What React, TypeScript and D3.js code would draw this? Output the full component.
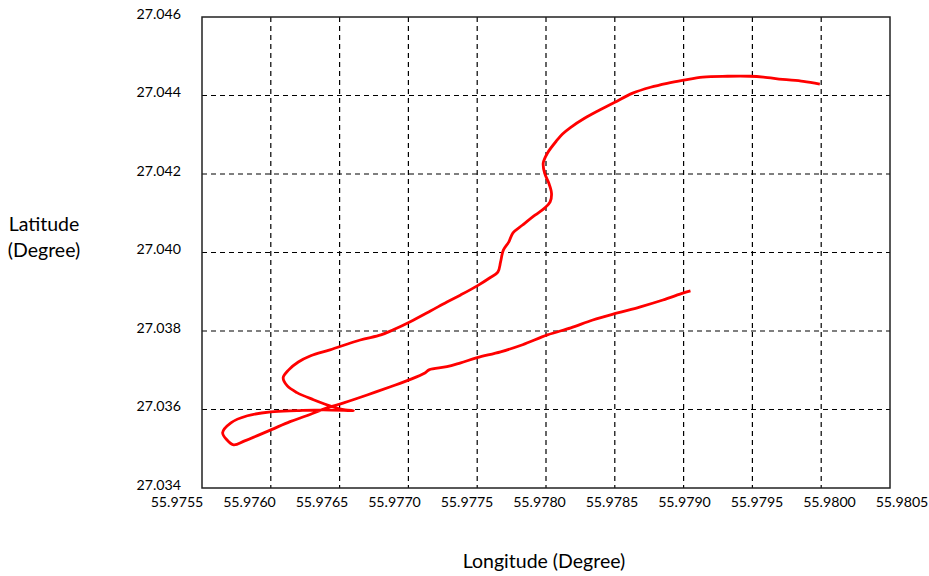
import React from "react"
import * as d3 from "d3"

// track points, [longitude, latitude], in order along the path
const trackLon = [
  55.97999, 55.97987, 55.97972, 55.97958, 55.97948, 55.97932, 55.97914, 55.979, 55.97888, 55.97876,
  55.97863, 55.9785, 55.97839, 55.97828, 55.97818, 55.97812, 55.97808, 55.97801, 55.97798, 55.97799,
  55.97802, 55.97804, 55.97803, 55.97799, 55.97792, 55.97783, 55.97776, 55.97773, 55.97769, 55.97767,
  55.97765, 55.97759, 55.9775, 55.97738, 55.97728, 55.97716, 55.97701, 55.97689, 55.9768, 55.97665,
  55.97643, 55.97629, 55.9762, 55.97613, 55.97609, 55.97612, 55.97619, 55.97631, 55.97645, 55.97654,
  55.9766, 55.97638, 55.97619, 55.976, 55.97583, 55.97571, 55.97565, 55.97568, 55.97573, 55.97581,
  55.976, 55.97614, 55.97626, 55.97641, 55.97653, 55.9767, 55.97687, 55.97701, 55.97712, 55.97715,
  55.97728, 55.97738, 55.9775, 55.97767, 55.97783, 55.97801, 55.97818, 55.97834, 55.97852, 55.97868,
  55.97885, 55.979, 55.97905,
]
const trackLat = [
  27.04429, 27.04436, 27.04441, 27.04447, 27.04449, 27.04449, 27.04447, 27.04439, 27.04431, 27.04421,
  27.04406, 27.04383, 27.04363, 27.04342, 27.04319, 27.04302, 27.04286, 27.04253, 27.04228, 27.04202,
  27.04177, 27.04151, 27.04129, 27.04113, 27.04095, 27.0407, 27.0405, 27.04027, 27.04006, 27.03976,
  27.0395, 27.03935, 27.03915, 27.03892, 27.03874, 27.03851, 27.03823, 27.03803, 27.0379, 27.03777,
  27.03752, 27.03737, 27.03721, 27.03701, 27.03681, 27.0366, 27.03643, 27.03625, 27.03607, 27.03599,
  27.03597, 27.03599, 27.03597, 27.03594, 27.03584, 27.03566, 27.03541, 27.03523, 27.0351, 27.0352,
  27.03548, 27.03569, 27.03584, 27.03604, 27.03617, 27.03637, 27.03658, 27.03676, 27.03693, 27.03701,
  27.03709, 27.03719, 27.03732, 27.03747, 27.03765, 27.0379, 27.03808, 27.03828, 27.03846, 27.03861,
  27.03879, 27.03897, 27.03902,
]

const xTicks = [55.9755, 55.976, 55.9765, 55.977, 55.9775, 55.978, 55.9785, 55.979, 55.9795, 55.98, 55.9805]
const yTicks = [27.034, 27.036, 27.038, 27.04, 27.042, 27.044, 27.046]

const width = 929
const height = 576
const plot = { left: 202, right: 890, top: 17, bottom: 488 }
const font = "Lato, 'Open Sans', sans-serif"

export default function App() {
  const x = d3.scaleLinear().domain([55.9755, 55.9805]).range([plot.left, plot.right])
  const y = d3.scaleLinear().domain([27.034, 27.046]).range([plot.bottom, plot.top])
  // tick labels in the original sit slightly wider apart than the grid
  const xLabel = d3.scaleLinear().domain([55.9755, 55.9805]).range([177, 902])

  const points = trackLon.map((lon, i) => [lon, trackLat[i]] as [number, number])
  const line = d3
    .line<[number, number]>()
    .x((d) => x(d[0]))
    .y((d) => y(d[1]))
    .curve(d3.curveCatmullRom.alpha(0.5))

  return (
    <svg width={width} height={height} style={{ position: "absolute", left: 0, top: 0, background: "#fff" }}>
      {/* dashed grid */}
      <g stroke="#000" strokeWidth={1.2} strokeDasharray="5,4">
        {xTicks.slice(1, -1).map((t) => (
          <line key={"gx" + t} x1={x(t)} x2={x(t)} y1={plot.top} y2={plot.bottom} />
        ))}
        {yTicks.slice(1, -1).map((t) => (
          <line key={"gy" + t} x1={plot.left} x2={plot.right} y1={y(t)} y2={y(t)} />
        ))}
      </g>

      <path d={line(points) || ""} fill="none" stroke="#ff0000" strokeWidth={2.8} strokeLinejoin="round" />

      {/* frame */}
      <rect
        x={plot.left}
        y={plot.top}
        width={plot.right - plot.left}
        height={plot.bottom - plot.top}
        fill="none"
        stroke="#222"
        strokeWidth={1.5}
      />

      <g fontFamily={font} fontSize={14.2} fill="#000">
        {yTicks.map((t) => (
          <text key={"ly" + t} x={181} y={y(t) - 2} textAnchor="end" dominantBaseline="middle">
            {t.toFixed(3)}
          </text>
        ))}
        {xTicks.map((t) => (
          <text key={"lx" + t} x={xLabel(t)} y={503} textAnchor="middle" dominantBaseline="middle">
            {t.toFixed(4)}
          </text>
        ))}
      </g>

      <g fontFamily={font} fontSize={19.5} fill="#000" textAnchor="middle">
        <text x={44} y={226} dominantBaseline="middle">
          Latitude
        </text>
        <text x={44} y={252} dominantBaseline="middle">
          (Degree)
        </text>
        <text x={544} y={563} dominantBaseline="middle">
          Longitude (Degree)
        </text>
      </g>
    </svg>
  )
}
